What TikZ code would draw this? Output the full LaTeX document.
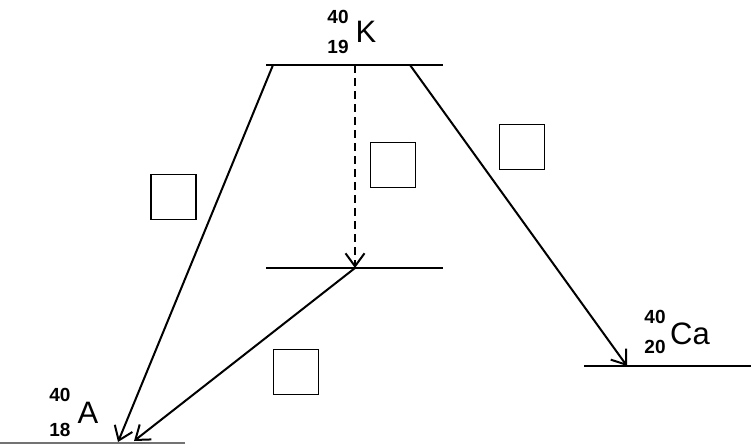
\documentclass[tikz,border=0pt]{standalone}
\usepackage{fontspec}
\setmainfont{Liberation Sans}
\usetikzlibrary{arrows.meta}
\tikzset{
  level/.style={line width=2.4pt},
  trans/.style={line width=2pt,-{Straight Barb[length=13pt,width=19pt,line width=2pt]}},
  blank/.style={draw,line width=1.8pt,minimum width=45pt,minimum height=45pt,inner sep=0pt},
  sym/.style={font=\fontsize{31}{31}\selectfont,inner sep=0pt,anchor=center},
  num/.style={font=\bfseries\fontsize{19}{19}\selectfont,inner sep=0pt,anchor=center}
}
\begin{document}
\begin{tikzpicture}[x=1pt,y=-1pt]
\useasboundingbox (0,0) rectangle (751,445);
% levels
\coordinate (t1) at (266,65); \coordinate (t2) at (443,65);
\coordinate (m1) at (266,268); \coordinate (m2) at (443,268);
\coordinate (r1) at (584,366); \coordinate (r2) at (751,366);
\coordinate (b1) at (0,443); \coordinate (b2) at (185,443);
\draw[level] (t1) -- (t2);
\draw[level] (m1) -- (m2);
\draw[level] (r1) -- (r2);
\draw[line width=1.6pt,black!55] (b1) -- (b2);
% transition endpoints
\coordinate (tA) at (273,65);
\coordinate (tD) at (355,65);
\coordinate (tC) at (410,65);
\coordinate (mD) at (355,268);
\coordinate (bA1) at (118,442);
\coordinate (bA2) at (134,441);
\coordinate (rC) at (627,366);
\draw[trans] (tA) -- (bA1);
\draw[trans,dash pattern=on 8pt off 5pt] (tD) -- (mD);
\draw[trans] (mD) -- (bA2);
\draw[trans] (tC) -- (rC);
% boxes
\node[blank] (box1) at (173.5,197) {};
\node[blank] (box2) at (393,165) {};
\node[blank] (box3) at (522,147) {};
\node[blank] (box4) at (296,372) {};
% labels
\node[sym] (K) at (366,32) {K};
\node[num] (Ka) at (338,17) {40};
\node[num] (Kz) at (338,47) {19};
\node[sym] (A) at (88,413) {A};
\node[num] (Aa) at (60,395) {40};
\node[num] (Az) at (60,430) {18};
\node[sym] (Ca) at (690,334) {Ca};
\node[num] (Caa) at (655,317) {40};
\node[num] (Caz) at (655,347) {20};
\end{tikzpicture}
\end{document}
